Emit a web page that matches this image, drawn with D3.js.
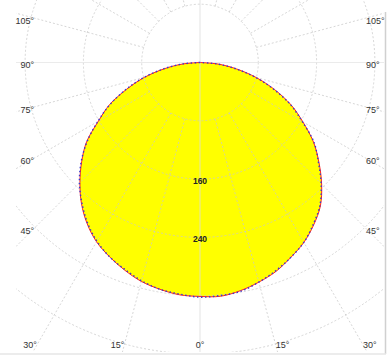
<!DOCTYPE html>
<html>
<head>
<meta charset="utf-8">
<script src="https://cdn.jsdelivr.net/npm/d3@7"></script>
<style>
  html, body { margin: 0; padding: 0; background: #fff; }
  svg { display: block; }
</style>
</head>
<body>
<svg id="chart" width="391" height="358"></svg>
<script>
// ---- data ----
const angles = [-90,-85,-80,-75,-70,-65,-60,-55,-50,-45,-40,-35,-30,-25,-20,-15,-10,-5,0,5,10,15,20,25,30,35,40,45,50,55,60,65,70,75,80,85,90];
// luminous intensity, C0-C180 plane (red)
const seriesC0 = [0,24,50,79,107,137,161,190,212,233,253,270,284,294,303,311,316,320,321,322,318,312,305,295,285,272,257,236,213,190,163,138,109,80,51,25,0];
// luminous intensity, C90-C270 plane (blue)
const seriesC90 = [0,25,51,80,108,136,162,189,213,234,252,269,283,294,302,310,316,319,322,321,319,312,304,295,285,271,256,235,212,191,162,137,108,79,50,24,0];
const ringValues = [80,160,240,320,400];
const ringLabelValues = [160,240];
const angleLabels = [-105,-90,-75,-60,-45,-30,-15,0,15,30,45,60,75,90,105];

// ---- layout ----
const svg = d3.select("#chart");
const cx = 200, cy = 62.5;
const r = d3.scaleLinear().domain([0, 80]).range([0, 58.3]);
const clipBox = {x0: 16, x1: 384, y0: 0, y1: 352};

svg.append("defs").append("clipPath").attr("id","plotclip")
  .append("rect").attr("x", clipBox.x0).attr("y", clipBox.y0)
  .attr("width", clipBox.x1 - clipBox.x0).attr("height", clipBox.y1 - clipBox.y0);

const toRad = d => d * Math.PI / 180;

// frame (right & bottom)
svg.append("line").attr("x1",385.5).attr("x2",385.5).attr("y1",12).attr("y2",354)
  .attr("stroke","#d0d0d0").attr("stroke-width",1.5);
svg.append("line").attr("x1",0).attr("x2",386).attr("y1",354).attr("y2",354)
  .attr("stroke","#e6e6e6").attr("stroke-width",1.5);

const g = svg.append("g").attr("transform", `translate(${cx},${cy})`);

// ---- curves ----
const radial = d3.lineRadial()
  .angle(d => Math.PI - toRad(d[0]))
  .radius(d => r(d[1]))
  .curve(d3.curveCatmullRom);
const ptsC0 = angles.map((a,i) => [a, seriesC0[i]]);
const ptsC90 = angles.map((a,i) => [a, seriesC90[i]]);
g.append("path").attr("d", radial(ptsC0) + "Z")
  .attr("fill", "#ffff00").attr("stroke", "none");

// ---- grid ----
const gridWrap = svg.append("g").attr("clip-path","url(#plotclip)")
  .append("g").attr("transform", `translate(${cx},${cy})`);
const gridColor = "#c8c8c8";

gridWrap.selectAll("circle.ring").data(ringValues).join("circle")
  .attr("class","ring").attr("r", d => r(d))
  .attr("fill","none").attr("stroke", gridColor).attr("stroke-opacity",0.75)
  .attr("stroke-width",1).attr("stroke-dasharray","2,2");

const spokeAngles = d3.range(0, 360, 15).filter(a => a % 90 !== 0);
const farR = 600;
gridWrap.selectAll("line.spoke").data(spokeAngles).join("line")
  .attr("class","spoke")
  .attr("x1", a => r(ringValues[0]) * Math.sin(toRad(a)))
  .attr("y1", a => r(ringValues[0]) * Math.cos(toRad(a)))
  .attr("x2", a => farR * Math.sin(toRad(a)))
  .attr("y2", a => farR * Math.cos(toRad(a)))
  .attr("stroke", gridColor).attr("stroke-opacity",0.75)
  .attr("stroke-width",1).attr("stroke-dasharray","2,2");

// axis lines (0° / 90°)
gridWrap.append("line").attr("x1",0).attr("x2",0).attr("y1",-farR).attr("y2",farR)
  .attr("stroke","#dcdcdc").attr("stroke-width",1).attr("stroke-opacity",0.8);
gridWrap.append("line").attr("x1",-farR).attr("x2",farR).attr("y1",0).attr("y2",0)
  .attr("stroke","#e6e6e6").attr("stroke-width",1).attr("stroke-opacity",0.8);

// ---- curve outlines ----
const outline = svg.append("g").attr("transform", `translate(${cx},${cy})`);
outline.append("path").attr("d", radial(ptsC0))
  .attr("fill","none").attr("stroke","#ff2020").attr("stroke-width",1);
outline.append("path").attr("d", radial(ptsC90))
  .attr("fill","none").attr("stroke","#3a3ad0").attr("stroke-width",1.4)
  .attr("stroke-dasharray","1.5,2.5");

// ---- radial labels ----
outline.selectAll("text.rl").data(ringLabelValues).join("text")
  .attr("class","rl").attr("x", 0).attr("y", d => r(d) + 1.5)
  .attr("dy","0.35em").attr("text-anchor","middle")
  .attr("font-family","'Liberation Sans', Arial, sans-serif")
  .attr("font-size","8.5px").attr("font-weight","bold").attr("fill","#222")
  .text(d => d);

// ---- angle labels ----
const box = {left: 34, right: 366, bottom: 345};
const labelG = svg.append("g");
angleLabels.forEach(a => {
  const s = Math.sin(toRad(a)), c = Math.cos(toRad(a));
  let t = Infinity, side = null;
  if (s < -1e-9) { const t1 = (box.left - cx) / s; if (t1 < t) { t = t1; side = "left"; } }
  if (s > 1e-9) { const t1 = (box.right - cx) / s; if (t1 < t) { t = t1; side = "right"; } }
  if (c > 1e-9) { const t2 = (box.bottom - cy) / c; if (t2 < t) { t = t2; side = "bottom"; } }
  let x = cx + t * s, y = cy + t * c;
  let anchor = "middle";
  if (side === "left") { anchor = "end"; y += 2.5; }
  else if (side === "right") { anchor = "start"; y += 2.5; }
  else { anchor = a < 0 ? "end" : (a > 0 ? "start" : "middle"); }
  labelG.append("text").attr("x", x).attr("y", y).attr("dy","0.35em")
    .attr("text-anchor", anchor)
    .attr("font-family","'Liberation Sans', Arial, sans-serif")
    .attr("font-size","9px").attr("fill","#333")
    .text(Math.abs(a) + "°");
});
</script>
</body>
</html>
